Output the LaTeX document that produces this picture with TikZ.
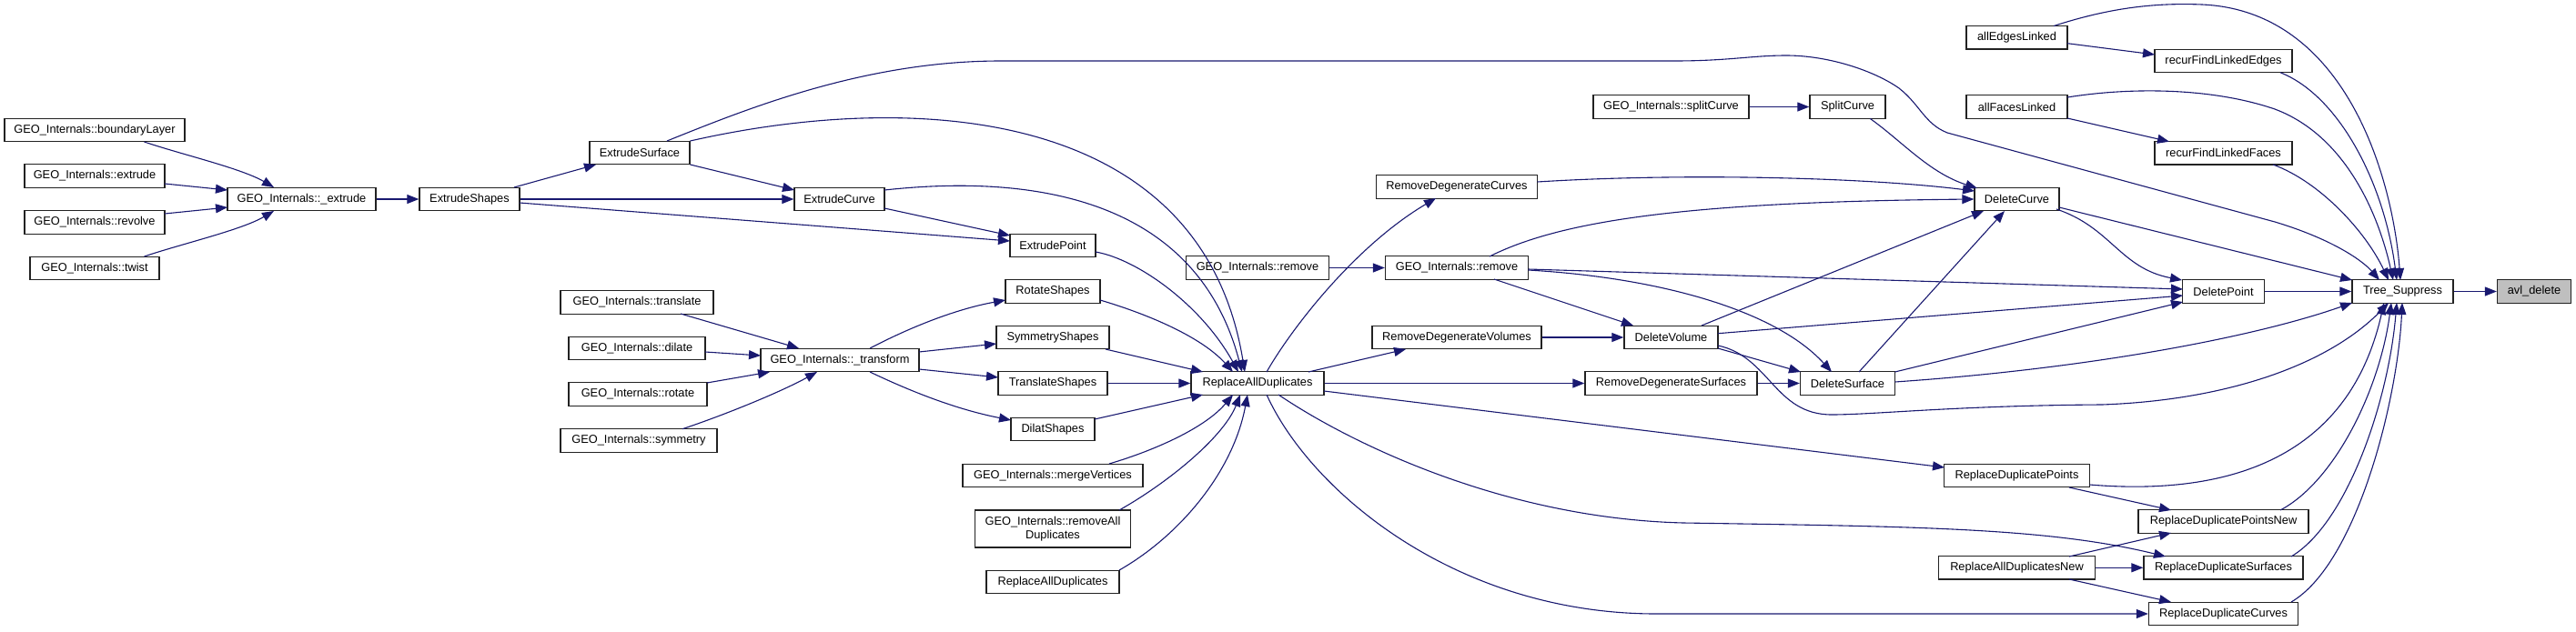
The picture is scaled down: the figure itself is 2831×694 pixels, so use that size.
\documentclass[tikz,border=0pt]{standalone}
\usepackage{fontspec}
\setmainfont{Liberation Sans}
\usetikzlibrary{arrows.meta}
\definecolor{edgec}{HTML}{191970}
\definecolor{boxc}{HTML}{222222}
\definecolor{grayf}{HTML}{BFBFBF}
\tikzset{
  fn/.style={draw=boxc, line width=1.3pt, fill=white, rectangle, minimum height=25.5pt, inner sep=0pt, font=\fontsize{12.8}{14.5}\selectfont},
  hl/.style={fn, fill=grayf},
  ed/.style={draw=edgec, line width=1.1pt, -{Triangle[length=13pt,width=10pt]}}
}
\begin{document}
\begin{tikzpicture}[x=1pt,y=-1pt]
\useasboundingbox (0,0) rectangle (2831,694);
% nodes
\node[fn, minimum width=198pt] (bl) at (104,143) {GEO\_Internals::boundaryLayer};
\node[fn, minimum width=154pt] (ext) at (104,193.5) {GEO\_Internals::extrude};
\node[fn, minimum width=154pt] (rev) at (104,244.5) {GEO\_Internals::revolve};
\node[fn, minimum width=142pt] (tw) at (104,295) {GEO\_Internals::twist};
\node[fn, minimum width=163pt] (gex) at (331.5,219) {GEO\_Internals::\_extrude};
\node[fn, minimum width=110pt] (ES) at (516,219) {ExtrudeShapes};
\node[fn, minimum width=110pt] (ESf) at (703,168) {ExtrudeSurface};
\node[fn, minimum width=99pt] (EC) at (922.5,219) {ExtrudeCurve};
\node[fn, minimum width=94pt] (EP) at (1157,270) {ExtrudePoint};
\node[fn, minimum width=168pt] (tr) at (700,332.5) {GEO\_Internals::translate};
\node[fn, minimum width=150pt] (di) at (700,383) {GEO\_Internals::dilate};
\node[fn, minimum width=152pt] (ro) at (701,433.5) {GEO\_Internals::rotate};
\node[fn, minimum width=172pt] (sy) at (702,484.5) {GEO\_Internals::symmetry};
\node[fn, minimum width=174pt] (gtr) at (923,396) {GEO\_Internals::\_transform};
\node[fn, minimum width=104pt] (RS) at (1157,320.5) {RotateShapes};
\node[fn, minimum width=124pt] (SS) at (1157,371) {SymmetryShapes};
\node[fn, minimum width=120pt] (TrS) at (1157,421.5) {TranslateShapes};
\node[fn, minimum width=92pt] (DiS) at (1157,472) {DilatShapes};
\node[fn, minimum width=198pt] (mV) at (1157,523) {GEO\_Internals::mergeVertices};
\node[fn, minimum width=171pt, minimum height=41pt, align=center] (rAD) at (1157,581.5) {GEO\_Internals::removeAll\\Duplicates};
\node[fn, minimum width=146pt] (RADb) at (1157,640) {ReplaceAllDuplicates};
\node[fn, minimum width=146pt] (RAD) at (1382,421.5) {ReplaceAllDuplicates};
\node[fn, minimum width=157pt] (rm1) at (1382,294.5) {GEO\_Internals::remove};
\node[fn, minimum width=157pt] (rm2) at (1601,294.5) {GEO\_Internals::remove};
\node[fn, minimum width=177pt] (RDC) at (1601,205.5) {RemoveDegenerateCurves};
\node[fn, minimum width=186pt] (RDV) at (1601,371) {RemoveDegenerateVolumes};
\node[fn, minimum width=171pt] (sC) at (1836.5,117.5) {GEO\_Internals::splitCurve};
\node[fn, minimum width=103pt] (DV) at (1836.5,371) {DeleteVolume};
\node[fn, minimum width=189pt] (RDS) at (1836.5,421.5) {RemoveDegenerateSurfaces};
\node[fn, minimum width=83pt] (SC) at (2030.5,117.5) {SplitCurve};
\node[fn, minimum width=104pt] (DSu) at (2030.5,421.5) {DeleteSurface};
\node[fn, minimum width=111pt] (aEL) at (2216.5,41.3) {allEdgesLinked};
\node[fn, minimum width=111pt] (aFL) at (2216.5,117.5) {allFacesLinked};
\node[fn, minimum width=93pt] (DC) at (2216.5,219) {DeleteCurve};
\node[fn, minimum width=160pt] (RDP) at (2216.5,523) {ReplaceDuplicatePoints};
\node[fn, minimum width=172pt] (RADN) at (2216.5,624.3) {ReplaceAllDuplicatesNew};
\node[fn, minimum width=151pt] (rFE) at (2443.5,67) {recurFindLinkedEdges};
\node[fn, minimum width=151pt] (rFF) at (2443.5,168.3) {recurFindLinkedFaces};
\node[fn, minimum width=90pt] (DP) at (2443.5,320.5) {DeletePoint};
\node[fn, minimum width=187pt] (RDPN) at (2443.5,573.5) {ReplaceDuplicatePointsNew};
\node[fn, minimum width=175pt] (RDSf) at (2443.5,624.3) {ReplaceDuplicateSurfaces};
\node[fn, minimum width=164pt] (RDCv) at (2443.5,675) {ReplaceDuplicateCurves};
\node[fn, minimum width=111pt] (TS) at (2640.5,320.5) {Tree\_Suppress};
\node[hl, minimum width=81pt] (avl) at (2785,320.5) {avl\_delete};
% edges
\draw[ed] ([shift={(54.5,13)}]bl.center) .. controls (200,170) and (265,185) .. ([shift={(-30.5,-13)}]gex.center);
\draw[ed] ([shift={(77,8.5)}]ext.center) -- ([shift={(-81.5,-10)}]gex.center);
\draw[ed] ([shift={(77,-9.5)}]rev.center) -- ([shift={(-81.5,9)}]gex.center);
\draw[ed] ([shift={(54.5,-13)}]tw.center) .. controls (200,268) and (265,253) .. ([shift={(-30.5,13)}]gex.center);
\draw[ed] (gex.east) -- (ES.west);
\draw[ed] ([shift={(49,-13)}]ES.center) -- ([shift={(-48,13)}]ESf.center);
\draw[ed] (ES.east) -- (EC.west);
\draw[ed] ([shift={(55,4)}]ES.center) -- ([shift={(-47,-5)}]EP.center);
\draw[ed] ([shift={(55.5,13)}]ESf.center) -- ([shift={(-49.5,-10)}]EC.center);
\draw[ed] ([shift={(49.5,10)}]EC.center) -- ([shift={(-47,-11)}]EP.center);
\draw[ed] ([shift={(55.5,-13)}]ESf.center) .. controls (1000,100) and (1320,115) .. ([shift={(-14,-12.5)}]RAD.center);
\draw[ed] ([shift={(49.5,-10)}]EC.center) .. controls (1100,195) and (1310,200) .. ([shift={(-17,-12.5)}]RAD.center);
\draw[ed] ([shift={(47,7)}]EP.center) .. controls (1250,285) and (1320,335) .. ([shift={(-21,-12.5)}]RAD.center);
\draw[ed] ([shift={(33,-13)}]gtr.center) .. controls (1000,360) and (1050,340) .. ([shift={(-52,9.5)}]RS.center);
\draw[ed] ([shift={(87,-9)}]gtr.center) -- ([shift={(-62,7)}]SS.center);
\draw[ed] ([shift={(87,10)}]gtr.center) -- ([shift={(-60,-6.5)}]TrS.center);
\draw[ed] ([shift={(33,13)}]gtr.center) .. controls (1000,430) and (1050,450) .. ([shift={(-46,-10)}]DiS.center);
\draw[ed] ([shift={(48,12.5)}]tr.center) -- ([shift={(-45,-13)}]gtr.center);
\draw[ed] ([shift={(75,4)}]di.center) -- ([shift={(-87,-5)}]gtr.center);
\draw[ed] ([shift={(76,-12.5)}]ro.center) -- ([shift={(-77,13)}]gtr.center);
\draw[ed] ([shift={(48,-12.8)}]sy.center) .. controls (800,455) and (860,430) .. ([shift={(-25,13)}]gtr.center);
\draw[ed] ([shift={(52,9.5)}]RS.center) .. controls (1260,345) and (1320,370) .. ([shift={(-27,-12.5)}]RAD.center);
\draw[ed] ([shift={(58,13)}]SS.center) -- ([shift={(-60,-12.5)}]RAD.center);
\draw[ed] (TrS.east) -- (RAD.west);
\draw[ed] ([shift={(46,-11)}]DiS.center) -- ([shift={(-60,12.5)}]RAD.center);
\draw[ed] ([shift={(62,-13)}]mV.center) .. controls (1270,495) and (1325,470) .. ([shift={(-27,12.5)}]RAD.center);
\draw[ed] ([shift={(73,-20.5)}]rAD.center) .. controls (1285,530) and (1345,480) .. ([shift={(-19,12.5)}]RAD.center);
\draw[ed] ([shift={(73,-13)}]RADb.center) .. controls (1295,590) and (1355,520) .. ([shift={(-11,12.5)}]RAD.center);
\draw[ed] (rm1.east) -- (rm2.west);
\draw[ed] ([shift={(10,-12.5)}]RAD.center) .. controls (1420,360) and (1490,270) .. ([shift={(-23,12.5)}]RDC.center);
\draw[ed] ([shift={(56,-12.5)}]RAD.center) -- ([shift={(-56,13)}]RDV.center);
\draw[ed] (RAD.east) -- (RDS.west);
\draw[ed] (RDV.east) -- (DV.west);
\draw[ed] (RDS.east) -- (DSu.west);
\draw[ed] ([shift={(51.5,12)}]DV.center) -- ([shift={(-51.5,-12.5)}]DSu.center);
\draw[ed] ([shift={(41,12.5)}]rm2.center) -- ([shift={(-41.5,-13)}]DV.center);
\draw[ed] ([shift={(78.5,2.5)}]rm2.center) .. controls (1820,305) and (1950,340) .. ([shift={(-17.5,-12.5)}]DSu.center);
\draw[ed] ([shift={(36,-12.5)}]rm2.center) .. controls (1720,240) and (1870,222) .. (DC.west);
\draw[ed] ([shift={(78.5,1.5)}]rm2.center) -- ([shift={(-44.5,-2.5)}]DP.center);
\draw[ed] ([shift={(88.5,-5.5)}]RDC.center) .. controls (1850,190) and (2050,195) .. ([shift={(-46.5,-9)}]DC.center);
\draw[ed] ([shift={(24.5,12.75)}]SC.center) .. controls (2090,155) and (2120,190) .. ([shift={(-43.5,-12)}]DC.center);
\draw[ed] (sC.east) -- (SC.west);
\draw[ed] ([shift={(33.5,-13)}]DV.center) -- ([shift={(-36.5,13)}]DC.center);
\draw[ed] ([shift={(12.5,-12.5)}]DSu.center) -- ([shift={(-13.5,13)}]DC.center);
\draw[ed] ([shift={(51.5,-4.3)}]DV.center) -- ([shift={(-44.5,4.5)}]DP.center);
\draw[ed] ([shift={(52,-12.5)}]DSu.center) -- ([shift={(-44.5,11.5)}]DP.center);
\draw[ed] ([shift={(52,-1.5)}]DSu.center) .. controls (2300,405) and (2480,370) .. ([shift={(-55.5,12.5)}]TS.center);
\draw[ed] ([shift={(51.5,9)}]DV.center) .. controls (1945,392) and (1950,456) .. (2013,456) .. controls (2060,456) and (2150,446) .. (2310,445) .. controls (2450,440) and (2560,400) .. ([shift={(-15.5,12.5)}]TS.center);
\draw[ed] ([shift={(43.5,11)}]DC.center) .. controls (2320,250) and (2330,295) .. ([shift={(-45.5,-12.5)}]DP.center);
\draw[ed] ([shift={(46.5,9)}]DC.center) -- ([shift={(-55.5,-12.5)}]TS.center);
\draw[ed] (DP.east) -- (TS.west);
\draw[ed] (TS.east) -- (avl.west);
\draw[ed] ([shift={(55.5,6.4)}]aEL.center) -- ([shift={(-75.5,-7)}]rFE.center);
\draw[ed] ([shift={(40.5,-12.75)}]aEL.center) .. controls (2320,8) and (2370,3) .. (2420,5) .. controls (2580,12) and (2630,200) .. ([shift={(-2.5,-12.5)}]TS.center);
\draw[ed] ([shift={(62.5,12.75)}]rFE.center) .. controls (2570,105) and (2620,200) .. ([shift={(-6.5,-12.5)}]TS.center);
\draw[ed] ([shift={(55.5,12.5)}]aFL.center) -- ([shift={(-59.5,-12.6)}]rFF.center);
\draw[ed] ([shift={(55.5,-10.5)}]aFL.center) .. controls (2340,96) and (2430,96) .. (2500,120) .. controls (2580,150) and (2615,240) .. ([shift={(-10.5,-12.5)}]TS.center);
\draw[ed] ([shift={(54.5,12.7)}]rFF.center) .. controls (2550,200) and (2600,255) .. ([shift={(-15.5,-12.5)}]TS.center);
\draw[ed] ([shift={(30,-13)}]ESf.center) .. controls (820,120) and (950,67) .. (1100,67) -- (1840,67) .. controls (1900,67) and (1925,61) .. (1963,61) .. controls (2010,61) and (2060,78) .. (2087,97) .. controls (2110,115) and (2115,136) .. (2140,146) -- (2500,244) .. controls (2560,262) and (2595,285) .. ([shift={(-25.5,-12.5)}]TS.center);
\draw[ed] ([shift={(73,8.5)}]RAD.center) -- ([shift={(-79.5,-9)}]RDP.center);
\draw[ed] ([shift={(23,12.5)}]RAD.center) .. controls (1480,485) and (1650,570) .. (1850,575) .. controls (2100,579) and (2250,580) .. ([shift={(-63.5,-12.3)}]RDSf.center);
\draw[ed] ([shift={(10,12.5)}]RAD.center) .. controls (1440,540) and (1600,675) .. (1820,675) -- (RDCv.west);
\draw[ed] ([shift={(57.5,13)}]RDP.center) -- ([shift={(-57.5,-12.5)}]RDPN.center);
\draw[ed] ([shift={(80,10)}]RDP.center) .. controls (2440,545) and (2580,510) .. ([shift={(-20.5,12.5)}]TS.center);
\draw[ed] ([shift={(57.5,-12.3)}]RADN.center) -- ([shift={(-57.5,12.5)}]RDPN.center);
\draw[ed] (RADN.east) -- (RDSf.west);
\draw[ed] ([shift={(57.5,12.7)}]RADN.center) -- ([shift={(-57.5,-13)}]RDCv.center);
\draw[ed] ([shift={(62.5,-12.5)}]RDPN.center) .. controls (2565,530) and (2615,430) .. ([shift={(-12.5,12.5)}]TS.center);
\draw[ed] ([shift={(74.5,-12.3)}]RDSf.center) .. controls (2580,575) and (2625,440) .. ([shift={(-6.5,12.5)}]TS.center);
\draw[ed] ([shift={(74.5,-13)}]RDCv.center) .. controls (2590,620) and (2635,440) .. ([shift={(-0.5,12.5)}]TS.center);
\end{tikzpicture}
\end{document}
